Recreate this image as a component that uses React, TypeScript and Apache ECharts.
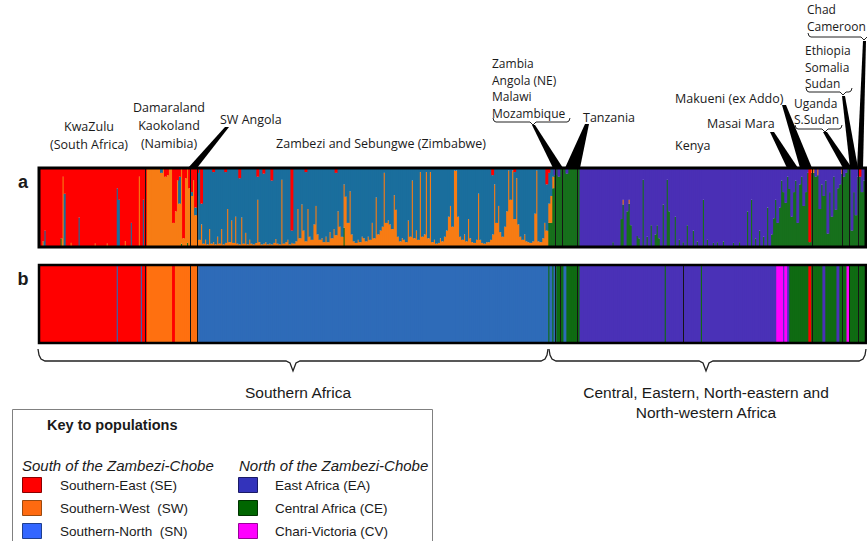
import React, { useEffect, useRef } from "react";
import * as echarts from "echarts";

// ---------- DATA ----------
const N = 411; // individuals (order as in the figure)
const stackOrderA = ["CE", "SW", "SN", "EA", "SE"];
const stackOrderB = ["CE", "SW", "SN", "EA", "SE", "CV"];
const clusterNames: Record<string, string> = {
  SE: "Southern-East (SE)", SW: "Southern-West (SW)", SN: "Southern-North (SN)",
  EA: "East Africa (EA)", CE: "Central Africa (CE)", CV: "Chari-Victoria (CV)",
};
const colorsA: Record<string, string> = { SE: "#ff0000", SW: "#f77c14", SN: "#1a6e9d", EA: "#4a2fb5", CE: "#17701c" };
const colorsB: Record<string, string> = { SE: "#ff0000", SW: "#ff7010", SN: "#2e6bb8", EA: "#4a31b7", CE: "#0f6b12", CV: "#ff00ff" };

// panel a: main cluster per run of individuals
const mainRunsA: [string, number][] = [["SE", 53], ["SW", 26], ["SN", 174], ["CE", 16], ["EA", 98], ["CE", 44]];

// panel a: orange (SW) share of the Zambezi / Sebungwe individuals (start at index 79)
const zimbabweStart = 79;
const zimbabweSW = [
  0.08, 0.28, 0.03, 0.08, 0.02, 0.22, 0.03, 0.05, 0.02, 0.12,
  0.03, 0.22, 0.02, 0.04, 0.48, 0.05, 0.33, 0.04, 0.38, 0.03,
  0.02, 0.37, 0.03, 0.17, 0.02, 0.08, 0.03, 0.02, 0.04, 0.60,
  0.05, 0.02, 0.03, 0.05, 0.02, 0.03, 0.02, 0.04, 0.09, 0.03,
  0.02, 0.86, 0.03, 0.05, 0.08, 0.02, 0.04, 0.03, 0.06, 0.48,
  0.10, 0.54, 0.20, 0.06, 0.48, 0.12, 0.08, 0.28, 0.52, 0.15,
  0.08, 0.10, 0.05, 0.12, 0.05, 0.18, 0.10, 0.22, 0.14, 0.45,
  0.25, 0.12, 0.56, 0.64, 0.30, 0.71, 0.15, 0.06, 0.04, 0.08,
  0.05, 0.12, 0.10, 0.06, 0.12, 0.08, 0.30, 0.10, 0.63, 0.15,
  0.20, 0.25, 0.95, 0.30, 0.33, 0.28, 0.22, 0.66, 0.47, 0.12,
  0.06, 0.10, 0.08, 0.05, 0.33, 0.12, 0.85, 0.10, 0.20, 0.08,
  0.96, 0.12, 0.15, 0.96, 0.10, 0.96, 0.05, 0.08, 0.03, 0.04,
  0.10, 0.06, 0.12, 0.20, 0.38, 0.52, 0.25, 0.98, 0.98, 0.38,
  0.12, 0.08, 0.15, 0.06, 0.35, 0.10, 0.05, 0.04, 0.08, 0.68,
  0.08, 0.04, 0.03, 0.05, 0.05, 0.08, 0.15, 0.80, 0.30, 0.52,
  0.18, 0.12, 0.25, 0.45, 0.98, 0.60, 0.98, 0.35, 0.88, 0.28,
  0.12, 0.08, 0.15, 0.06, 0.05, 0.04, 0.06, 0.42, 0.98, 0.06,
  0.05, 0.10, 0.30, 0.20,
];

// panel a: other admixture shares [individual, cluster, share]
const admixA: [number, string, number][] = [
  [1, "SW", 0.06], [2, "SN", 0.2], [10, "CE", 0.1], [11, "SW", 0.9], [12, "SN", 0.68], [15, "SW", 0.04],
  [19, "SN", 0.37], [27, "SW", 0.03], [33, "SW", 0.03], [38, "SN", 0.75], [39, "SN", 0.6], [42, "SW", 0.06],
  [45, "SN", 0.3], [49, "SW", 0.9], [51, "SN", 0.6],
  [60, "SN", 0.05], [62, "SE", 0.1], [63, "SE", 0.08], [66, "SE", 0.7], [67, "SE", 0.55], [68, "SE", 0.15],
  [69, "SN", 0.35], [69, "SE", 0.1], [70, "CE", 0.03], [71, "SE", 0.9], [72, "SE", 0.12], [73, "CE", 0.04], [74, "SE", 0.25],
  [75, "SE", 0.3], [75, "SN", 0.05], [76, "SE", 0.15], [77, "SE", 0.5], [77, "SN", 0.1], [78, "SE", 0.05], [78, "SN", 0.3],
  [80, "SE", 0.45], [86, "SE", 0.04], [92, "SE", 0.04], [99, "SE", 0.12], [108, "SE", 0.1], [111, "SE", 0.06],
  [115, "SE", 0.15], [125, "SE", 0.8], [132, "SE", 0.04], [147, "SE", 0.05], [151, "CE", 0.24], [225, "SE", 0.08],
  [236, "SE", 0.04], [252, "SE", 0.2],
  [253, "SW", 0.25], [253, "SN", 0.4], [253, "SE", 0.05], [254, "SW", 0.35], [254, "SN", 0.35], [255, "SW", 0.15],
  [255, "SN", 0.1], [256, "EA", 0.08], [258, "EA", 0.1], [262, "EA", 0.06],
  [285, "CE", 0.05], [289, "CE", 0.35], [290, "CE", 0.54], [290, "SW", 0.06], [292, "CE", 0.45], [293, "CE", 0.55],
  [293, "SW", 0.05], [294, "CE", 0.27], [297, "CE", 0.13], [298, "CE", 0.1], [300, "CE", 0.86], [302, "CE", 0.12],
  [304, "CE", 0.27], [306, "CE", 0.15], [307, "CE", 0.27], [308, "CE", 0.1], [310, "CE", 0.54], [312, "CE", 0.86],
  [313, "CE", 0.45], [316, "CE", 0.38], [318, "CE", 0.08], [320, "CE", 0.05], [322, "CE", 0.27], [325, "CE", 0.2],
  [327, "CE", 0.06], [330, "CE", 0.6], [332, "CE", 0.08], [335, "CE", 0.04], [337, "CE", 0.05], [340, "CE", 0.06],
  [345, "CE", 0.04], [348, "CE", 0.05], [352, "CE", 0.45], [354, "CE", 0.6], [356, "CE", 0.1], [358, "CE", 0.2],
  [360, "CE", 0.12], [362, "CE", 0.5], [364, "CE", 0.15], [365, "CE", 0.36], [366, "CE", 0.6],
  [367, "EA", 0.7], [368, "EA", 0.5], [369, "EA", 0.15], [370, "EA", 0.3], [371, "EA", 0.44], [372, "EA", 0.1],
  [373, "EA", 0.26], [374, "EA", 0.62], [375, "EA", 0.3], [376, "EA", 0.15], [377, "EA", 0.7], [378, "EA", 0.2],
  [379, "EA", 0.1], [380, "EA", 0.48], [381, "EA", 0.3], [382, "EA", 0.05], [383, "SE", 0.95], [384, "SW", 0.05],
  [385, "SW", 0.05], [386, "EA", 0.1], [387, "SW", 0.08], [388, "EA", 0.52], [389, "EA", 0.2], [390, "EA", 0.35],
  [391, "EA", 0.15], [392, "EA", 0.84], [393, "EA", 0.3], [394, "EA", 0.62], [395, "EA", 0.1], [396, "EA", 0.53],
  [397, "EA", 0.25], [398, "EA", 0.2], [399, "SW", 0.06], [400, "EA", 0.1], [401, "EA", 0.05], [404, "EA", 0.8],
  [405, "EA", 0.3], [406, "EA", 0.6], [407, "EA", 0.1], [408, "SE", 0.1], [409, "EA", 0.3], [410, "EA", 0.15],
];

// panel b: assignment runs [cluster, number of individuals]
const runsB: [string, number][] = [
  ["SE", 38], ["SN", 1], ["SE", 11], ["SN", 1], ["SE", 2],
  ["SW", 13], ["SE", 1], ["SW", 12],
  ["SN", 174],
  ["CE", 1], ["SN", 1], ["CE", 1], ["SN", 1], ["CE", 4], ["SN", 1], ["CE", 7],
  ["EA", 42], ["CE", 1], ["EA", 17], ["CE", 1], ["EA", 37],
  ["CV", 3], ["EA", 1], ["CV", 1], ["EA", 1], ["CE", 10], ["SE", 1], ["CE", 6], ["EA", 1], ["CE", 6],
  ["EA", 1], ["CE", 4], ["CV", 1], ["CE", 8],
];

// population boundaries (in individuals)
const dividersA = [52.5, 75, 78.5, 256.5, 260, 267.5, 384.5, 399.5, 403, 407.5];
const dividersB = [52.5, 75, 78.5, 256.5, 259, 267.5, 320.5, 384.5, 399.5, 403, 407.5];

// ---------- BUILD ----------
function buildA() {
  const mains: string[] = [];
  mainRunsA.forEach(([c, n]) => { for (let k = 0; k < n; k++) mains.push(c); });
  const comp: Record<string, number>[] = mains.map(() => ({}));
  zimbabweSW.forEach((v, i) => { comp[zimbabweStart + i].SW = v; });
  admixA.forEach(([i, c, v]) => { comp[i][c] = (comp[i][c] || 0) + v; });
  mains.forEach((m, i) => {
    let s = 0;
    Object.keys(comp[i]).forEach((k) => { if (k !== m) s += comp[i][k]; });
    comp[i][m] = Math.max(0, 1 - s);
  });
  const out: Record<string, (number | string)[]> = {};
  stackOrderA.forEach((c) => { out[c] = comp.map((r) => (r[c] ? r[c] : "-")); });
  return out;
}
function buildB() {
  const assign: string[] = [];
  runsB.forEach(([c, n]) => { for (let k = 0; k < n; k++) assign.push(c); });
  const out: Record<string, (number | string)[]> = {};
  stackOrderB.forEach((c) => { out[c] = assign.map((a) => (a === c ? 1 : "-")); });
  return out;
}

const TOP_FONT = "'Open Sans', sans-serif";
const ARIAL = "'Liberation Sans', Arial, sans-serif";

function txt(text: string, x: number, y: number, opts: any = {}) {
  return {
    type: "text", x, y, z: 120, silent: true,
    style: {
      text, fill: "#1a1a1a", font: opts.font || `12.5px ${TOP_FONT}`,
      align: opts.align || "left", verticalAlign: "middle",
      lineHeight: opts.lineHeight,
    },
  };
}
function wedge(points: number[][]) {
  return { type: "polygon", z: 120, silent: true, shape: { points }, style: { fill: "#000" } };
}
function pline(points: number[][], w = 1) {
  return { type: "polyline", z: 120, silent: true, shape: { points }, style: { stroke: "#222", lineWidth: w, fill: "none" } };
}
function underbrace(x1: number, x2: number, xm: number, y: number) {
  return pline([[x1, y - 3], [x1 + 1, y], [x1 + 3, y + 1], [xm - 3, y + 1], [xm, y + 4], [xm + 3, y + 1], [x2 - 3, y + 1], [x2 - 1, y], [x2, y - 3]], 1);
}
function brace(x1: number, x2: number, xm: number) {
  return pline([
    [x1, 349], [x1 + 1, 355], [x1 + 3, 359], [x1 + 7, 361], [xm - 7, 361], [xm - 3, 363], [xm, 371],
    [xm + 3, 363], [xm + 7, 361], [x2 - 7, 361], [x2 - 3, 359], [x2 - 1, 355], [x2, 349],
  ], 1.3);
}

export default function App() {
  const ref = useRef<HTMLDivElement>(null);
  useEffect(() => {
    if (!ref.current) return;
    const chart = echarts.init(ref.current, undefined, { renderer: "svg" });
    const A = buildA();
    const B = buildB();
    const cats = Array.from({ length: N }, (_, i) => String(i));

    const seriesA = stackOrderA.map((c) => ({
      name: clusterNames[c], type: "bar", stack: "a", xAxisIndex: 0, yAxisIndex: 0,
      barWidth: 2.9, data: A[c], silent: true, emphasis: { disabled: true },
      itemStyle: { color: colorsA[c], borderWidth: 0 },
    }));
    const seriesB = stackOrderB.map((c) => ({
      name: clusterNames[c] + " ", type: "bar", stack: "b", xAxisIndex: 1, yAxisIndex: 1,
      barWidth: 2.9, data: B[c], silent: true, emphasis: { disabled: true },
      itemStyle: { color: colorsB[c], borderWidth: 0 },
    }));
    const divider = (xa: number, ya: number, list: number[]) => ({
      type: "line", xAxisIndex: xa, yAxisIndex: ya, data: [[0, 0]], showSymbol: false,
      lineStyle: { width: 0, opacity: 0 }, silent: true, z: 5,
      markLine: {
        symbol: "none", silent: true, animation: false, label: { show: false },
        lineStyle: { color: "#151515", width: 1, type: "solid" },
        data: list.map((v) => ({ xAxis: v })),
      },
    });

    const F12 = `12px ${TOP_FONT}`;
    const graphics: any[] = [
      { type: "rect", z: 110, silent: true, shape: { x: 39, y: 168, width: 827, height: 79 }, style: { fill: "none", stroke: "#000", lineWidth: 3 } },
      { type: "rect", z: 110, silent: true, shape: { x: 39, y: 265, width: 827, height: 78 }, style: { fill: "none", stroke: "#000", lineWidth: 2.5 } },
      txt("a", 23, 182, { font: `bold 18px ${ARIAL}`, align: "center" }),
      txt("b", 23, 279, { font: `bold 18px ${ARIAL}`, align: "center" }),
      txt("KwaZulu\n(South Africa)", 89, 135.5, { align: "center", lineHeight: 17.5 }),
      txt("Damaraland\nKaokoland\n(Namibia)", 169, 125, { align: "center", lineHeight: 18 }),
      txt("SW Angola", 220, 119),
      wedge([[225, 127], [229, 127], [197, 168], [188, 168]]),
      txt("Zambezi and Sebungwe (Zimbabwe)", 381, 143, { align: "center" }),
      txt("Zambia\nAngola (NE)\nMalawi\nMozambique", 492, 88.5, { lineHeight: 16.5, font: F12 }),
      underbrace(493, 570, 533, 121),
      wedge([[532, 125], [535, 125], [563, 168], [553, 168]]),
      txt("Tanzania", 583, 117),
      wedge([[585, 124], [589, 124], [580, 168], [565, 168]]),
      txt("Kenya", 675, 145),
      txt("Makueni (ex Addo)", 675, 98),
      wedge([[782, 105], [786, 105], [812, 168], [800, 168]]),
      txt("Masai Mara", 707, 123),
      wedge([[770, 132], [774, 132], [798, 168], [787, 168]]),
      txt("Uganda\nS.Sudan", 794, 111.5, { lineHeight: 16.5, font: F12 }),
      underbrace(795, 842, 825, 128),
      wedge([[823, 132], [827, 132], [852, 168], [843, 168]]),
      txt("Ethiopia\nSomalia\nSudan", 805, 67, { lineHeight: 16.5, font: F12 }),
      underbrace(806, 852, 843, 91),
      wedge([[842, 96], [845, 96], [858, 168], [850, 168]]),
      txt("Chad\nCameroon", 807, 18, { lineHeight: 16.5, font: F12 }),
      underbrace(808, 870, 864, 36),
      wedge([[863, 41], [866, 41], [863, 168], [857, 168]]),
      brace(38, 548, 293),
      brace(549, 866, 706),
      txt("Southern Africa", 298, 392, { font: `15.5px ${ARIAL}`, align: "center" }),
      txt("Central, Eastern, North-eastern and\nNorth-western Africa", 706, 402, { font: `15.5px ${ARIAL}`, align: "center", lineHeight: 20 }),
      { type: "rect", z: 100, silent: true, shape: { x: 12.5, y: 409.5, width: 420, height: 200 }, style: { fill: "#fff", stroke: "#808080", lineWidth: 1 } },
      txt("Key to populations", 47, 425, { font: `bold 14.5px ${ARIAL}` }),
      txt("South of the Zambezi-Chobe", 22, 465, { font: `italic 15px ${ARIAL}` }),
      txt("North of the Zambezi-Chobe", 239, 465, { font: `italic 15px ${ARIAL}` }),
    ];
    const keyLeft = [["SE", "Southern-East (SE)", "#8b0000"], ["SW", "Southern-West\u00a0\u00a0(SW)", "#9a4a10"], ["SN", "Southern-North\u00a0\u00a0(SN)", "#1f3f8f"]];
    const keyRight = [["EA", "East Africa (EA)", "#1a1a66"], ["CE", "Central Africa (CE)", "#003300"], ["CV", "Chari-Victoria (CV)", "#990099"]];
    const keyColors: Record<string, string> = { SE: "#ff0000", SW: "#ff6a10", SN: "#3366ff", EA: "#3333bb", CE: "#006600", CV: "#ff00ff" };
    const rowsY = [485, 508, 531];
    keyLeft.forEach(([c, label, stroke], k) => {
      graphics.push({ type: "rect", z: 120, silent: true, shape: { x: 22.5, y: rowsY[k] - 7.5, width: 19, height: 15 }, style: { fill: keyColors[c], stroke, lineWidth: 1 } });
      graphics.push(txt(label, 60, rowsY[k], { font: `13.5px ${ARIAL}` }));
    });
    keyRight.forEach(([c, label, stroke], k) => {
      graphics.push({ type: "rect", z: 120, silent: true, shape: { x: 238.5, y: rowsY[k] - 7.5, width: 19, height: 15 }, style: { fill: keyColors[c], stroke, lineWidth: 1 } });
      graphics.push(txt(label, 275, rowsY[k], { font: `13.5px ${ARIAL}` }));
    });

    chart.setOption({
      animation: false,
      backgroundColor: "#ffffff",
      grid: [
        { left: 40, top: 169, width: 825, height: 77 },
        { left: 40, top: 266, width: 825, height: 76 },
      ],
      xAxis: [
        { type: "category", gridIndex: 0, data: cats, show: false },
        { type: "category", gridIndex: 1, data: cats, show: false },
        { type: "value", gridIndex: 0, min: 0, max: N, show: false },
        { type: "value", gridIndex: 1, min: 0, max: N, show: false },
      ],
      yAxis: [
        { type: "value", gridIndex: 0, min: 0, max: 1, show: false },
        { type: "value", gridIndex: 1, min: 0, max: 1, show: false },
      ],
      series: [...seriesA, ...seriesB, divider(2, 0, dividersA), divider(3, 1, dividersB)],
      graphic: graphics,
    });
    return () => chart.dispose();
  }, []);
  return <div ref={ref} style={{ position: "fixed", left: 0, top: 0, width: 867, height: 541, background: "#fff" }} />;
}
